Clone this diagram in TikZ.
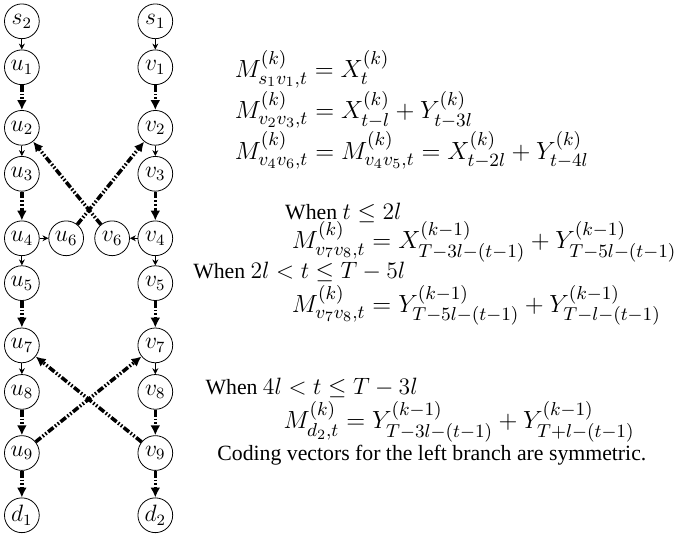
\documentclass[tikz,border=0pt]{standalone}
\usepackage{fix-cm}
\usepackage{fontspec}
\setmainfont{Liberation Serif}[Scale=0.92]
\DeclareMathSizes{12.6}{12.6}{9.5}{7.2}
\usetikzlibrary{arrows.meta}
\begin{document}
\begin{tikzpicture}[every node/.style={font=\fontsize{12}{14.4}\selectfont}]
  \tikzset{
    nd/.style={circle, draw, inner sep=0.5pt, minimum size=0.62cm, font=\large},
    plain/.style={-{Stealth[length=3pt,width=3pt]}, thin},
    coded/.style={-{Latex[length=5pt,width=5pt]}, line width=1.8pt,
      dash pattern=on 3.5pt off 1pt on 0.8pt off 1pt on 0.8pt off 1pt},
    txt/.style={anchor=base west, inner sep=0pt},
    eq/.style={txt, font=\fontsize{12.6}{15}\selectfont}
  }
  \useasboundingbox (0,0) rectangle (12.11,-9.51);
  % left branch
  \node[nd] (s2) at (0.39,-0.38) {$s_2$};
  \node[nd] (u1) at (0.39,-1.20) {$u_1$};
  \node[nd] (u2) at (0.39,-2.28) {$u_2$};
  \node[nd] (u3) at (0.39,-3.10) {$u_3$};
  \node[nd] (u4) at (0.39,-4.25) {$u_4$};
  \node[nd] (u5) at (0.39,-5.05) {$u_5$};
  \node[nd] (u7) at (0.39,-6.16) {$u_7$};
  \node[nd] (u8) at (0.39,-6.99) {$u_8$};
  \node[nd] (u9) at (0.39,-8.08) {$u_9$};
  \node[nd] (d1) at (0.39,-9.19) {$d_1$};
  \node[nd] (u6) at (1.18,-4.25) {$u_6$};
  % right branch
  \node[nd] (s1) at (2.77,-0.38) {$s_1$};
  \node[nd] (v1) at (2.77,-1.20) {$v_1$};
  \node[nd] (v2) at (2.77,-2.28) {$v_2$};
  \node[nd] (v3) at (2.77,-3.10) {$v_3$};
  \node[nd] (v4) at (2.77,-4.25) {$v_4$};
  \node[nd] (v5) at (2.77,-5.05) {$v_5$};
  \node[nd] (v7) at (2.77,-6.16) {$v_7$};
  \node[nd] (v8) at (2.77,-6.99) {$v_8$};
  \node[nd] (v9) at (2.77,-8.08) {$v_9$};
  \node[nd] (d2) at (2.77,-9.19) {$d_2$};
  \node[nd] (v6) at (2.00,-4.25) {$v_6$};

  \draw[plain] (s2) -- (u1);
  \draw[plain] (u2) -- (u3);
  \draw[plain] (u4) -- (u5);
  \draw[plain] (u7) -- (u8);
  \draw[plain] (u4) -- (u6);
  \draw[plain] (s1) -- (v1);
  \draw[plain] (v2) -- (v3);
  \draw[plain] (v4) -- (v5);
  \draw[plain] (v7) -- (v8);
  \draw[plain] (v4) -- (v6);

  \draw[coded] (u1) -- (u2);
  \draw[coded] (u3) -- (u4);
  \draw[coded] (u5) -- (u7);
  \draw[coded] (u8) -- (u9);
  \draw[coded] (u9) -- (d1);
  \draw[coded] (v1) -- (v2);
  \draw[coded] (v3) -- (v4);
  \draw[coded] (v5) -- (v7);
  \draw[coded] (v8) -- (v9);
  \draw[coded] (v9) -- (d2);
  \draw[coded] (u6) -- (v2);
  \draw[coded] (v6) -- (u2);
  \draw[coded] (u9) -- (v7);
  \draw[coded] (v9) -- (u7);

  % coding vectors
  \node[eq] (e1) at (4.18,-1.39) {$M^{(k)}_{s_1v_1,t}=X^{(k)}_{t}$};
  \node[eq] (e2) at (4.18,-2.12) {$M^{(k)}_{v_2v_3,t}=X^{(k)}_{t-l}+Y^{(k)}_{t-3l}$};
  \node[eq] (e3) at (4.18,-2.84) {$M^{(k)}_{v_4v_6,t}=M^{(k)}_{v_4v_5,t}=X^{(k)}_{t-2l}+Y^{(k)}_{t-4l}$};
  \node[txt] (w1) at (5.08,-3.91) {When $t\leq 2l$};
  \node[eq] (e4) at (5.20,-4.44) {$M^{(k)}_{v_7v_8,t}=X^{(k-1)}_{T-3l-(t-1)}+Y^{(k-1)}_{T-5l-(t-1)}$};
  \node[txt] (w2) at (3.44,-4.96) {When $2l<t\leq T-5l$};
  \node[eq] (e5) at (5.20,-5.57) {$M^{(k)}_{v_7v_8,t}=Y^{(k-1)}_{T-5l-(t-1)}+Y^{(k-1)}_{T-l-(t-1)}$};
  \node[txt] (w3) at (3.66,-7.03) {When $4l<t\leq T-3l$};
  \node[eq] (e6) at (5.05,-7.65) {$M^{(k)}_{d_2,t}=Y^{(k-1)}_{T-3l-(t-1)}+Y^{(k-1)}_{T+l-(t-1)}$};
  \node[txt] (c1) at (3.87,-8.22) {Coding vectors for the left branch are symmetric.};
\end{tikzpicture}
\end{document}
